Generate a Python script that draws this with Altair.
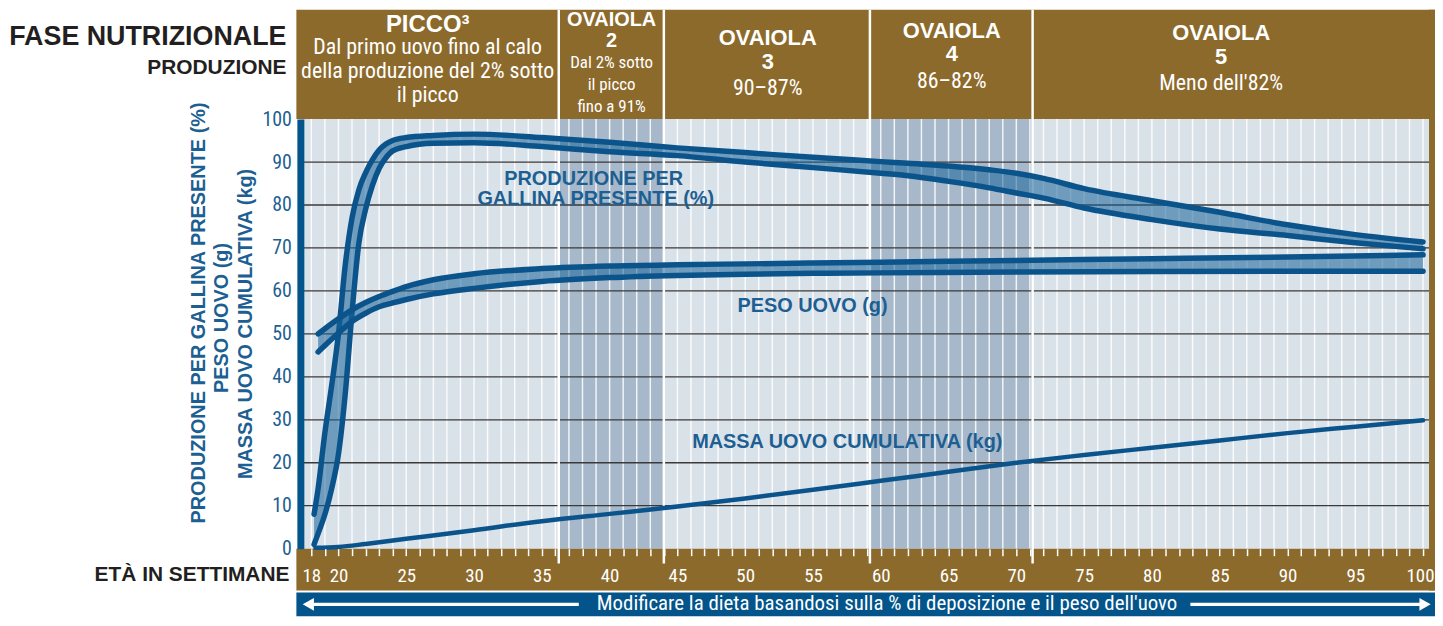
import altair as alt
import pandas as pd

# ---------------- data ----------------
weeks_all = list(range(18, 101))
y_ticks = [0, 10, 20, 30, 40, 50, 60, 70, 80, 90, 100]
grid_vals = [10, 20, 30, 40, 50, 60, 70, 80, 90]

phase_bounds = [36.25, 44.0, 59.2, 71.2]
stripe_start = [36.25, 59.2]
stripe_end = [44.0, 71.2]

prod_weeks = [18.2, 18.5, 19, 19.5, 20, 20.5, 21, 21.5, 22, 22.5, 23, 23.5, 24, 25, 27, 30,
              35, 40, 45, 50, 55, 60, 62, 65, 68, 70, 72, 75, 80, 85, 90, 95, 100]
prod_hi = [8, 14, 27, 38, 50, 66, 77, 83.5, 87.5, 90.5, 92.8, 94.2, 95.0, 95.7, 96.2, 96.5,
           95.7, 94.6, 93.3, 92.2, 91.1, 90.1, 89.7, 89.1, 88.2, 87.4, 86.2, 83.8, 81.0, 78.3, 75.4, 73.1, 71.4]
prod_lo = [1, 3.5, 8, 14, 22, 36, 55, 71, 79, 84.5, 88.5, 91, 92.6, 93.6, 94.4, 94.5,
           93.6, 92.4, 91.5, 90.0, 88.7, 87.4, 86.8, 85.5, 84.0, 82.8, 81.6, 79.3, 76.6, 74.4, 72.9, 71.2, 69.8]

egg_weeks = [18.5, 19, 20, 21, 22, 23, 24, 25, 27, 30, 35, 40, 45, 50, 55, 60, 70, 80, 90, 100]
egg_hi = [50, 51.2, 53.5, 55.6, 57.3, 58.7, 59.9, 61.0, 62.6, 64.0, 65.2, 65.8, 66.1, 66.3, 66.5, 66.7,
          67.1, 67.5, 67.9, 68.4]
egg_lo = [45.8, 47.3, 50.2, 52.9, 54.8, 56.3, 57.2, 58.0, 59.3, 60.6, 62.2, 63.1, 63.6, 63.9, 64.1, 64.2,
          64.4, 64.5, 64.6, 64.6]

mass_weeks = [18.3, 20, 22, 25, 30, 35, 40, 45, 50, 55, 60, 65, 70, 75, 80, 85, 90, 95, 100]
mass_vals = [0.2, 0.4, 1.1, 2.3, 4.3, 6.4, 8.1, 9.8, 11.7, 13.7, 15.8, 17.9, 20.0, 21.8, 23.5, 25.2,
             26.9, 28.4, 29.9]

# ---------------- style ----------------
W, H = 1135, 432
X0, X1 = 17.19, 100.44
BROWN = "#8c6a2c"
LIGHT = "#d9e1e9"
DARK = "#a6b8c9"
BLUE = "#0b548b"
BAND_BLUE = "#02548a"
AX_BLUE = "#1d5f92"
FILL = "#186299"
TXT = "#231f20"
NARROW = "Liberation Sans Narrow, Arial Narrow, Roboto Condensed, Liberation Sans, sans-serif"
SANS = "Liberation Sans, Arial, Helvetica, sans-serif"

xs = alt.Scale(domain=[X0, X1], nice=False, zero=False)
ys = alt.Scale(domain=[0, 100], nice=False, zero=False)

X_AX = alt.Axis(
    values=weeks_all,
    labelExpr="(datum.value == 18 || datum.value % 5 == 0) ? datum.label : ''",
    labelColor="white", labelFont=NARROW, labelFontSize=19, labelPadding=20,
    labelBaseline="middle", tickColor="white", tickSize=7, tickWidth=1.5,
    labelAlign={"condition": {"test": "datum.value == 100", "value": "right"}, "value": "center"},
    labelOffset={"condition": {"test": "datum.value == 100", "value": 11}, "value": 0},
    domain=False, grid=False, title=None, labelFlush=False, labelOverlap=False, zindex=1)
Y_AX = alt.Axis(
    values=y_ticks, labelColor=AX_BLUE, labelFont=NARROW, labelFontSize=20, labelPadding=9,
    ticks=False, domainColor=BAND_BLUE, domainWidth=7, grid=False, title=None,
    labelFlush=False, labelOverlap=False, zindex=1)

one = pd.DataFrame({"k": [0]})


def txt(s, px, py, size, bold=False, color="white", font=NARROW, angle=0, align="center"):
    return alt.Chart(one).mark_text(
        text=s, fontSize=size, fontWeight="bold" if bold else "normal", font=font,
        color=color, angle=angle, align=align, baseline="middle"
    ).encode(x=alt.value(px), y=alt.value(py))


def box(x1, x2, y1, y2, color):
    return alt.Chart(one).mark_rect(color=color).encode(
        x=alt.value(x1), x2=alt.value(x2), y=alt.value(y1), y2=alt.value(y2))


stripes = alt.Chart(pd.DataFrame({"s": stripe_start, "e": stripe_end})).mark_rect(color=DARK).encode(
    x=alt.X("s:Q", scale=xs, axis=X_AX), x2="e:Q", y=alt.value(0), y2=alt.value(H))

week_lines = alt.Chart(pd.DataFrame({"w": weeks_all})).mark_rule(
    color="white", strokeWidth=1.5, opacity=0.85).encode(
    x=alt.X("w:Q", scale=xs, axis=X_AX), y=alt.value(0), y2=alt.value(H))

grid = alt.Chart(pd.DataFrame({"g": grid_vals})).mark_rule(color="#3a3a3a", strokeWidth=1.3).encode(
    y=alt.Y("g:Q", scale=ys, axis=Y_AX))

header = box(-4, W + 6, -110, 0, BROWN)
axis_band = box(-4, W + 6, H, H + 42, BROWN)
right_strip = box(W, W + 6, -110, H + 42, BROWN)
blue_band = box(-4, W + 6, H + 44, H + 68, BAND_BLUE)

dividers = alt.Chart(pd.DataFrame({"b": phase_bounds})).mark_rule(color="white", strokeWidth=2.5).encode(
    x=alt.X("b:Q", scale=xs, axis=X_AX), y=alt.value(-110), y2=alt.value(H + 15))

prod_df = pd.DataFrame({"w": prod_weeks, "hi": prod_hi, "lo": prod_lo})
egg_df = pd.DataFrame({"w": egg_weeks, "hi": egg_hi, "lo": egg_lo})
mass_df = pd.DataFrame({"w": mass_weeks, "m": mass_vals})


def band(df):
    area = alt.Chart(df).mark_area(color=FILL, opacity=0.55, interpolate="monotone").encode(
        x=alt.X("w:Q", scale=xs, axis=X_AX), y=alt.Y("hi:Q", scale=ys, axis=Y_AX), y2="lo:Q")
    hi = alt.Chart(df).mark_line(color=BLUE, strokeWidth=5.5, interpolate="monotone", strokeCap="round").encode(
        x=alt.X("w:Q", scale=xs, axis=X_AX), y=alt.Y("hi:Q", scale=ys, axis=Y_AX))
    lo = alt.Chart(df).mark_line(color=BLUE, strokeWidth=5.5, interpolate="monotone", strokeCap="round").encode(
        x=alt.X("w:Q", scale=xs, axis=X_AX), y=alt.Y("lo:Q", scale=ys, axis=Y_AX))
    return [area, hi, lo]


mass_line = alt.Chart(mass_df).mark_line(color=BLUE, strokeWidth=4.5, interpolate="monotone",
                                         strokeCap="round").encode(
    x=alt.X("w:Q", scale=xs, axis=X_AX), y=alt.Y("m:Q", scale=ys, axis=Y_AX))

texts = [
    txt("FASE NUTRIZIONALE", -14, -83, 27, True, TXT, SANS, align="right"),
    txt("PRODUZIONE", -14, -51, 21, True, TXT, SANS, align="right"),
    txt("ETÀ IN SETTIMANE", -11, H + 27, 21, True, TXT, SANS, align="right"),
    txt("PRODUZIONE PER GALLINA PRESENTE (%)", -102, 195, 20, True, AX_BLUE, SANS, angle=270),
    txt("PESO UOVO  (g)", -79, 200, 20, True, AX_BLUE, SANS, angle=270),
    txt("MASSA UOVO CUMULATIVA (kg)", -55, 206, 20, True, AX_BLUE, SANS, angle=270),
    txt("PRODUZIONE PER", 295, 60, 20, True, AX_BLUE, SANS),
    txt("GALLINA PRESENTE (%)", 297, 80, 20, True, AX_BLUE, SANS),
    txt("PESO UOVO (g)", 515, 188, 20, True, AX_BLUE, SANS),
    txt("MASSA UOVO CUMULATIVA (kg)", 550, 325, 20, True, AX_BLUE, SANS),
    # header
    txt("PICCO³", 128, -95, 24, True, "white", SANS),
    txt("Dal primo uovo fino al calo", 128, -72, 22),
    txt("della produzione del 2% sotto", 128, -48, 22),
    txt("il picco", 128, -24, 22),
    txt("OVAIOLA", 313, -100, 20, True, "white", SANS),
    txt("2", 313, -78, 20, True, "white", SANS),
    txt("Dal 2% sotto", 313, -56, 17),
    txt("il picco", 313, -34, 17),
    txt("fino a 91%", 313, -12, 17),
    txt("OVAIOLA", 470, -81, 22, True, "white", SANS),
    txt("3", 470, -57, 22, True, "white", SANS),
    txt("90–87%", 470, -31, 22),
    txt("OVAIOLA", 655, -89, 22, True, "white", SANS),
    txt("4", 655, -65, 22, True, "white", SANS),
    txt("86–82%", 655, -38, 22),
    txt("OVAIOLA", 926, -87, 22, True, "white", SANS),
    txt("5", 926, -62, 22, True, "white", SANS),
    txt("Meno dell'82%", 926, -36, 22),
    # bottom band
    txt("Modificare la dieta basandosi sulla % di deposizione e il peso dell'uovo", 590, H + 56, 21),
]

arrows = [
    alt.Chart(one).mark_rule(color="white", strokeWidth=3.5).encode(
        x=alt.value(8), x2=alt.value(280), y=alt.value(H + 56)),
    alt.Chart(one).mark_rule(color="white", strokeWidth=3.5).encode(
        x=alt.value(895), x2=alt.value(W - 6), y=alt.value(H + 56)),
    alt.Chart(one).mark_point(shape="triangle-left", filled=True, color="white", size=170, opacity=1).encode(
        x=alt.value(8), y=alt.value(H + 56)),
    alt.Chart(one).mark_point(shape="triangle-right", filled=True, color="white", size=170, opacity=1).encode(
        x=alt.value(W - 4), y=alt.value(H + 56)),
]

layers = ([stripes, week_lines, grid, header, axis_band, right_strip, blue_band, dividers]
          + band(prod_df) + band(egg_df) + [mass_line] + texts + arrows)

chart = alt.layer(*layers).properties(
    width=W, height=H,
    padding={"left": 294, "top": 110, "right": 6, "bottom": 68},
    autosize=alt.AutoSizeParams(type="none"),
    background="white",
).configure_view(fill=LIGHT, stroke=None)

chart.save("out.html", embed_options={"renderer": "svg", "actions": False})
